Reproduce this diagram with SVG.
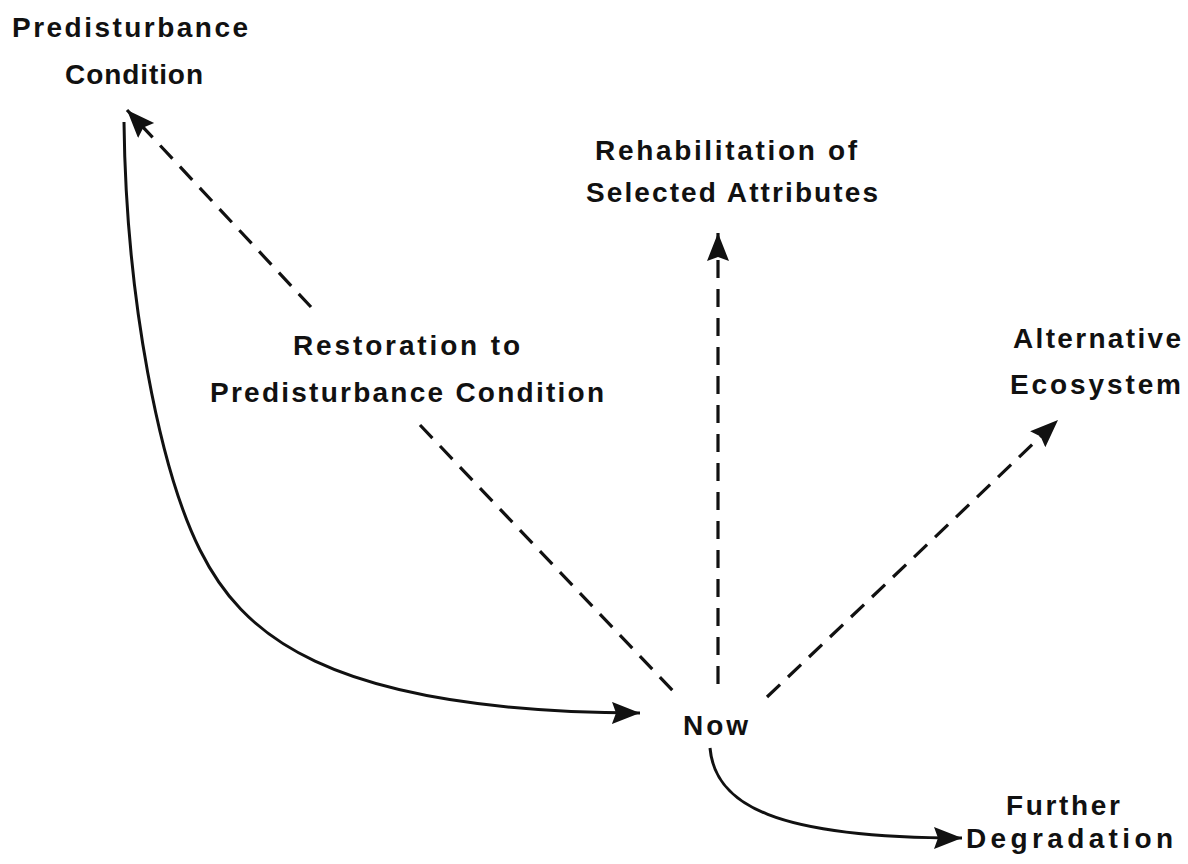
<svg xmlns="http://www.w3.org/2000/svg" width="1188" height="864" viewBox="0 0 1188 864">
<style>
text{font-family:"Liberation Sans",Arial,sans-serif;font-weight:bold;font-size:28px;fill:#111}
.solid{fill:none;stroke:#111;stroke-width:3}
.dash{fill:none;stroke:#111;stroke-width:3.2;stroke-dasharray:18 11}
</style>
<defs>
<marker id="ah" markerUnits="userSpaceOnUse" markerWidth="32" markerHeight="26" refX="28" refY="11" orient="auto">
<path d="M0,0 L28,11 L0,22 L4,11 z" fill="#111"/>
</marker>
</defs>
<rect width="1188" height="864" fill="#fff"/>
<g id="connectors">
<path class="dash" d="M311,307 L127,110" marker-end="url(#ah)"/>
<path class="dash" d="M420,425 L674,692"/>
<path class="dash" d="M718,684 L718,233" marker-end="url(#ah)"/>
<path class="dash" d="M767,697 L1058,420" marker-end="url(#ah)"/>
<path class="solid" d="M124,122 C126,300 160,470 200,550 C240,630 320,712 640,713" marker-end="url(#ah)"/>
<path class="solid" d="M710,748 C715,805 775,838 962,838" marker-end="url(#ah)"/>
</g>
<g id="predisturbance"><text x="12" y="37" textLength="236" lengthAdjust="spacing">Predisturbance</text><text x="65" y="84" textLength="138" lengthAdjust="spacing">Condition</text></g>
<g id="rehabilitation"><text x="595" y="160" textLength="262" lengthAdjust="spacing">Rehabilitation of</text><text x="586" y="202" textLength="292" lengthAdjust="spacing">Selected Attributes</text></g>
<g id="restoration"><text x="293" y="355" textLength="227" lengthAdjust="spacing">Restoration to</text><text x="210" y="402" textLength="394" lengthAdjust="spacing">Predisturbance Condition</text></g>
<g id="alternative"><text x="1013" y="348" textLength="168" lengthAdjust="spacing">Alternative</text><text x="1010" y="394" textLength="171" lengthAdjust="spacing">Ecosystem</text></g>
<g id="now"><text x="683" y="735" textLength="65" lengthAdjust="spacing">Now</text></g>
<g id="further"><text x="1006" y="815" textLength="114" lengthAdjust="spacing">Further</text><text x="966" y="848" textLength="207" lengthAdjust="spacing">Degradation</text></g>
</svg>
